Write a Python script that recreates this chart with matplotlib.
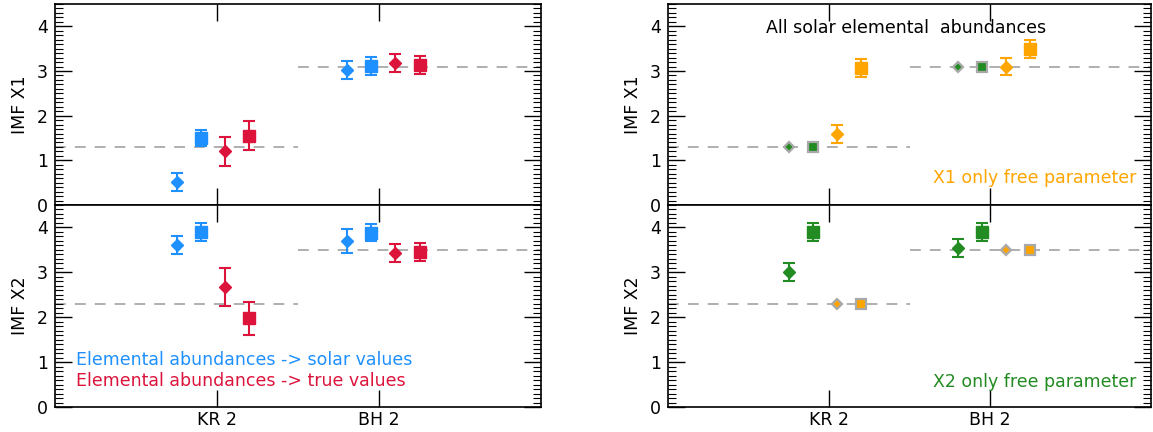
import numpy as np
import matplotlib.pyplot as plt
from matplotlib.ticker import MultipleLocator

# categories
labels = ['KR 2', 'BH 2']
label_pos = [1, 2]

# x positions of the four estimates inside each group
x_pos = {
    'D1': [0.75, 1.8],
    's1': [0.9, 1.95],
    'D2': [1.05, 2.1],
    's2': [1.2, 2.25],
}

# true IMF values (dashed lines)
true_x1 = [1.3, 3.1]
true_x2 = [2.3, 3.5]

# left panel: solar abundances (blue) / true abundances (red)
solar_d_x1 = [0.51, 3.03]
solar_d_x1_err = [0.2, 0.2]
solar_s_x1 = [1.5, 3.12]
solar_s_x1_err = [0.18, 0.2]
true_d_x1 = [1.2, 3.18]
true_d_x1_err = [0.32, 0.2]
true_s_x1 = [1.55, 3.14]
true_s_x1_err = [0.32, 0.2]

solar_d_x2 = [3.61, 3.69]
solar_d_x2_err = [0.21, 0.27]
solar_s_x2 = [3.9, 3.88]
solar_s_x2_err = [0.2, 0.19]
true_d_x2 = [2.67, 3.43]
true_d_x2_err = [0.42, 0.2]
true_s_x2 = [1.98, 3.46]
true_s_x2_err = [0.37, 0.2]

# right panel: only X1 free (orange) / only X2 free (green)
x1free_d = [1.58, 3.1]
x1free_d_err = [0.2, 0.2]
x1free_s = [3.06, 3.5]
x1free_s_err = [0.2, 0.2]
x2free_d = [3.0, 3.55]
x2free_d_err = [0.2, 0.2]
x2free_s = [3.9, 3.9]
x2free_s_err = [0.2, 0.2]

blue = 'dodgerblue'
red = 'crimson'
orange = 'orange'
green = 'forestgreen'
fs = 12.5


def style_ax(ax, ylabel, bottom):
    ax.set_xlim(0, 3)
    ax.set_ylim(0, 4.5)
    ax.set_xticks(label_pos)
    if bottom:
        ax.set_xticklabels(labels, fontsize=fs)
    else:
        ax.set_xticklabels([])
    ax.yaxis.set_major_locator(MultipleLocator(1))
    ax.yaxis.set_minor_locator(MultipleLocator(0.1))
    ax.tick_params(which='major', direction='in', length=12, width=1,
                   top=True, right=True, labelsize=fs)
    ax.tick_params(axis='y', pad=5)
    ax.tick_params(axis='x', pad=3)
    ax.tick_params(which='minor', direction='in', length=6, width=0.8,
                   left=True, right=True, top=False, bottom=False)
    ax.set_ylabel(ylabel, fontsize=fs, labelpad=6)
    for sp in ax.spines.values():
        sp.set_linewidth(1.2)


def truth(ax, vals):
    ax.plot([0, 1.5], [vals[0], vals[0]], '--', color='darkgray', lw=1.3, dashes=(6, 5), zorder=1)
    ax.plot([1.5, 3], [vals[1], vals[1]], '--', color='darkgray', lw=1.3, dashes=(6, 5), zorder=1)


def est(ax, key, y, err, color, marker):
    ms = 6 if marker == 'D' else 8.5
    ax.errorbar(x_pos[key], y, yerr=err, fmt=marker, color=color, ms=ms,
                elinewidth=1.5, capsize=4.3, capthick=1.5, zorder=3)


def fixed(ax, key, y, color, marker):
    ms = 5 if marker == 'D' else 7.5
    ax.plot(x_pos[key], y, marker, color=color, ms=ms, mec='darkgray', mew=1.6, zorder=3)


fig = plt.figure(figsize=(11.53, 4.32), dpi=100)
ax1 = fig.add_axes([55 / 1153, 1 - 205 / 432, 486 / 1153, 201 / 432])
ax2 = fig.add_axes([55 / 1153, 1 - 407 / 432, 486 / 1153, 202 / 432])
ax3 = fig.add_axes([668 / 1153, 1 - 205 / 432, 483 / 1153, 201 / 432])
ax4 = fig.add_axes([668 / 1153, 1 - 407 / 432, 483 / 1153, 202 / 432])

# left top
truth(ax1, true_x1)
est(ax1, 'D1', solar_d_x1, solar_d_x1_err, blue, 'D')
est(ax1, 's1', solar_s_x1, solar_s_x1_err, blue, 's')
est(ax1, 'D2', true_d_x1, true_d_x1_err, red, 'D')
est(ax1, 's2', true_s_x1, true_s_x1_err, red, 's')
style_ax(ax1, 'IMF X1', False)

# left bottom
truth(ax2, true_x2)
est(ax2, 'D1', solar_d_x2, solar_d_x2_err, blue, 'D')
est(ax2, 's1', solar_s_x2, solar_s_x2_err, blue, 's')
est(ax2, 'D2', true_d_x2, true_d_x2_err, red, 'D')
est(ax2, 's2', true_s_x2, true_s_x2_err, red, 's')
style_ax(ax2, 'IMF X2', True)
ax2.text(0.13, 1.05, 'Elemental abundances -> solar values', color=blue, fontsize=fs, va='center')
ax2.text(0.13, 0.58, 'Elemental abundances -> true values', color=red, fontsize=fs, va='center')

# right top
truth(ax3, true_x1)
fixed(ax3, 'D1', true_x1, green, 'D')
fixed(ax3, 's1', true_x1, green, 's')
est(ax3, 'D2', x1free_d, x1free_d_err, orange, 'D')
est(ax3, 's2', x1free_s, x1free_s_err, orange, 's')
style_ax(ax3, 'IMF X1', False)
ax3.text(1.48, 3.97, 'All solar elemental  abundances', color='black', fontsize=fs, ha='center', va='center')
ax3.text(2.91, 0.6, 'X1 only free parameter', color=orange, fontsize=fs, ha='right', va='center')

# right bottom
truth(ax4, true_x2)
est(ax4, 'D1', x2free_d, x2free_d_err, green, 'D')
est(ax4, 's1', x2free_s, x2free_s_err, green, 's')
fixed(ax4, 'D2', true_x2, orange, 'D')
fixed(ax4, 's2', true_x2, orange, 's')
style_ax(ax4, 'IMF X2', True)
ax4.text(2.91, 0.55, 'X2 only free parameter', color=green, fontsize=fs, ha='right', va='center')

fig.savefig('out.png', dpi=100)
